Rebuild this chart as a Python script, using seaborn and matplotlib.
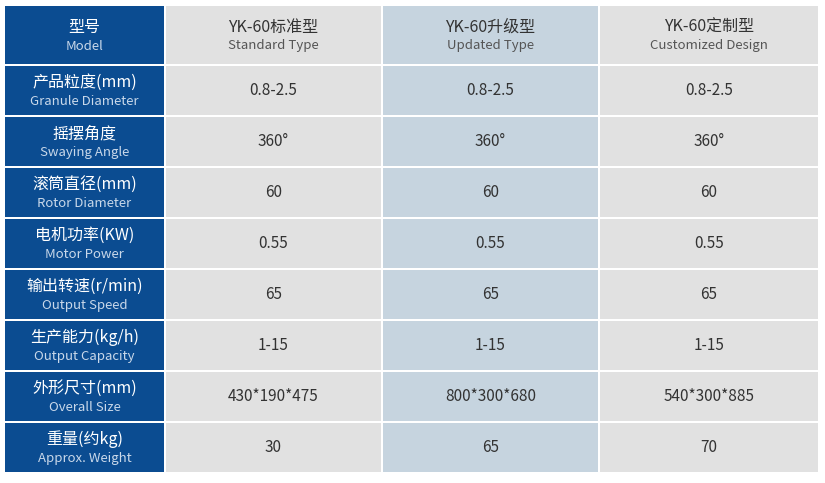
import matplotlib.pyplot as plt
import seaborn as sns
from matplotlib.patches import Rectangle

# Données du tableau
row_cn = ["型号", "产品粒度(mm)", "摇摆角度", "滚筒直径(mm)", "电机功率(KW)",
          "输出转速(r/min)", "生产能力(kg/h)", "外形尺寸(mm)", "重量(约kg)"]
row_en = ["Model", "Granule Diameter", "Swaying Angle", "Rotor Diameter", "Motor Power",
          "Output Speed", "Output Capacity", "Overall Size", "Approx. Weight"]
model_cn = ["YK-60标准型", "YK-60升级型", "YK-60定制型"]
model_en = ["Standard Type", "Updated Type", "Customized Design"]
standard = ["0.8-2.5", "360°", "60", "0.55", "65", "1-15", "430*190*475", "30"]
updated = ["0.8-2.5", "360°", "60", "0.55", "65", "1-15", "800*300*680", "65"]
custom = ["0.8-2.5", "360°", "60", "0.55", "65", "1-15", "540*300*885", "70"]

sns.set_theme(style="white")
plt.rcParams['font.family'] = ['Noto Sans CJK SC', 'DejaVu Sans']

W, H = 825, 483
fig = plt.figure(figsize=(W / 100, H / 100), dpi=100)
ax = fig.add_axes([0, 0, 1, 1])
ax.set_xlim(0, W)
ax.set_ylim(H, 0)
ax.axis('off')

blue, gray, lblue = '#0b4c91', '#e1e1e1', '#c6d4df'
col_x = [(5, 164), (166, 381), (383, 598), (600, 818)]
col_bg = [blue, gray, lblue, gray]
row_y = [(6, 64)] + [(66 + i * 51, 115 + i * 51) for i in range(8)]

columns = [standard, updated, custom]
for r, (y0, y1) in enumerate(row_y):
    cy = (y0 + y1) / 2
    for c, (x0, x1) in enumerate(col_x):
        ax.add_patch(Rectangle((x0, y0), x1 - x0, y1 - y0, color=col_bg[c], lw=0))
        cx = (x0 + x1) / 2
        if c == 0:
            ax.text(cx, cy - 8, row_cn[r], color='white', fontsize=11.5, ha='center', va='center')
            ax.text(cx, cy + 11, row_en[r], color='#c9d8ea', fontsize=9.5, ha='center', va='center')
        elif r == 0:
            ax.text(cx, cy - 8, model_cn[c - 1], color='#333333', fontsize=11.5, ha='center', va='center')
            ax.text(cx, cy + 11, model_en[c - 1], color='#555555', fontsize=9.5, ha='center', va='center')
        else:
            ax.text(cx, cy, columns[c - 1][r - 1], color='#333333', fontsize=11, ha='center', va='center')

fig.savefig('out.png', dpi=100)
